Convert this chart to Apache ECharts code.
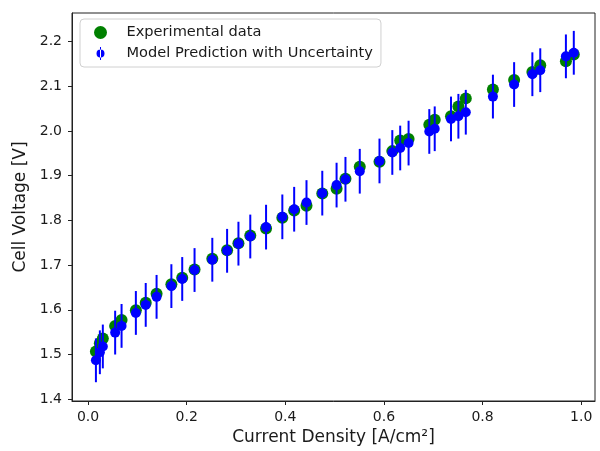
<!DOCTYPE html>
<html>
<head>
<meta charset="utf-8">
<script src="https://cdn.jsdelivr.net/npm/echarts@6/dist/echarts.min.js"></script>
<style>html,body{margin:0;padding:0;background:#fff}#c{width:600px;height:451px}</style>
</head>
<body>
<div id="c"></div>
<script>
const currentDensity = [0.016,0.024,0.030,0.055,0.068,0.097,0.117,0.139,0.169,0.191,0.216,0.252,0.282,0.305,0.329,0.361,0.394,0.418,0.443,0.475,0.504,0.522,0.551,0.591,0.617,0.633,0.650,0.692,0.703,0.736,0.751,0.766,0.821,0.864,0.901,0.917,0.969,0.985];
const experimental = [1.507,1.525,1.536,1.564,1.577,1.599,1.616,1.636,1.657,1.672,1.690,1.714,1.733,1.749,1.766,1.782,1.806,1.822,1.833,1.860,1.871,1.893,1.920,1.931,1.955,1.979,1.982,2.014,2.025,2.033,2.055,2.073,2.093,2.114,2.132,2.147,2.156,2.171];
const model = [1.487,1.505,1.518,1.549,1.564,1.593,1.611,1.629,1.653,1.669,1.689,1.712,1.732,1.748,1.764,1.785,1.808,1.825,1.840,1.861,1.879,1.892,1.910,1.933,1.952,1.962,1.973,1.999,2.005,2.027,2.033,2.042,2.077,2.104,2.127,2.136,2.167,2.175];
const uncertainty = [0.049,0.049,0.049,0.049,0.049,0.049,0.049,0.049,0.049,0.049,0.049,0.049,0.049,0.049,0.049,0.050,0.050,0.050,0.050,0.050,0.050,0.050,0.050,0.050,0.050,0.050,0.050,0.050,0.050,0.050,0.050,0.050,0.049,0.050,0.049,0.049,0.049,0.049];
const xTicks = [0.0,0.2,0.4,0.6,0.8,1.0];
const yTicks = [1.4,1.5,1.6,1.7,1.8,1.9,2.0,2.1,2.2];
const legendNames = ['Experimental data','Model Prediction with Uncertainty'];

const FONT = 'DejaVu Sans';
const TXT = '#1a1a1a';
const chart = echarts.init(document.getElementById('c'), null, {renderer:'canvas'});

const expData = currentDensity.map((x,i)=>[x, experimental[i]]);
const modData = currentDensity.map((x,i)=>[x, model[i]]);
const errData = currentDensity.map((x,i)=>[x, model[i]-uncertainty[i], model[i]+uncertainty[i]]);

const errIcon = 'path://M4,0 L5,0 L5,13 L4,13 Z M0.5,6.5 A4,4 0 1,0 8.5,6.5 A4,4 0 1,0 0.5,6.5 Z';

chart.setOption({
  animation:false,
  backgroundColor:'#fff',
  grid:{left:72, right:5, top:13, bottom:47, show:true, borderColor:'#222', borderWidth:1, backgroundColor:'transparent'},
  legend:{
    left:80, top:19, orient:'vertical',
    padding:[6,8,6,14],
    itemWidth:22, itemHeight:13, itemGap:6,
    borderColor:'#d0d0d0', borderWidth:1, borderRadius:4,
    backgroundColor:'#fff',
    symbolKeepAspect:true,
    data:[{name:legendNames[0], icon:'circle'},{name:legendNames[1], icon:errIcon}],
    formatter: n => '{g|}' + n,
    textStyle:{fontFamily:FONT, fontSize:14.6, color:TXT, lineHeight:15, rich:{g:{width:10}}}
  },
  xAxis:{
    type:'value', min:-0.0325, max:1.028,
    name:'Current Density [A/cm²]', nameLocation:'middle', nameGap:28,
    nameTextStyle:{fontFamily:FONT, fontSize:17, color:TXT},
    axisLine:{show:true, onZero:false, lineStyle:{color:'#222', width:1}},
    axisTick:{show:true, inside:false, length:4, lineStyle:{color:'#222', width:1}, customValues:xTicks},
    axisLabel:{fontFamily:FONT, fontSize:14, color:TXT, margin:9, customValues:xTicks, formatter:v=>v.toFixed(1)},
    splitLine:{show:false}
  },
  yAxis:{
    type:'value', min:1.396, max:2.264,
    name:'Cell Voltage [V]', nameLocation:'middle', nameGap:32, nameRotate:90,
    nameTextStyle:{fontFamily:FONT, fontSize:17, color:TXT},
    axisLine:{show:true, onZero:false, lineStyle:{color:'#222', width:1}},
    axisTick:{show:true, inside:false, length:4, lineStyle:{color:'#222', width:1}, customValues:yTicks},
    axisLabel:{fontFamily:FONT, fontSize:14, color:TXT, margin:10, customValues:yTicks, formatter:v=>v.toFixed(1)},
    splitLine:{show:false}
  },
  series:[
    {name:legendNames[0], type:'scatter', data:expData, symbol:'circle', symbolSize:12, itemStyle:{color:'#008000', opacity:1}, z:2},
    {name:'errbars', type:'custom', data:errData, encode:{x:0, y:[1,2]}, z:3,
      renderItem:(params, api)=>{
        const x = api.value(0);
        const p1 = api.coord([x, api.value(1)]);
        const p2 = api.coord([x, api.value(2)]);
        return {type:'line', shape:{x1:p1[0], y1:p1[1], x2:p2[0], y2:p2[1]}, style:{stroke:'#0000ff', lineWidth:2}};
      }},
    {name:legendNames[1], type:'scatter', data:modData, symbol:'circle', symbolSize:10, itemStyle:{color:'#0000ff', opacity:1}, z:4}
  ]
});
</script>
</body>
</html>
